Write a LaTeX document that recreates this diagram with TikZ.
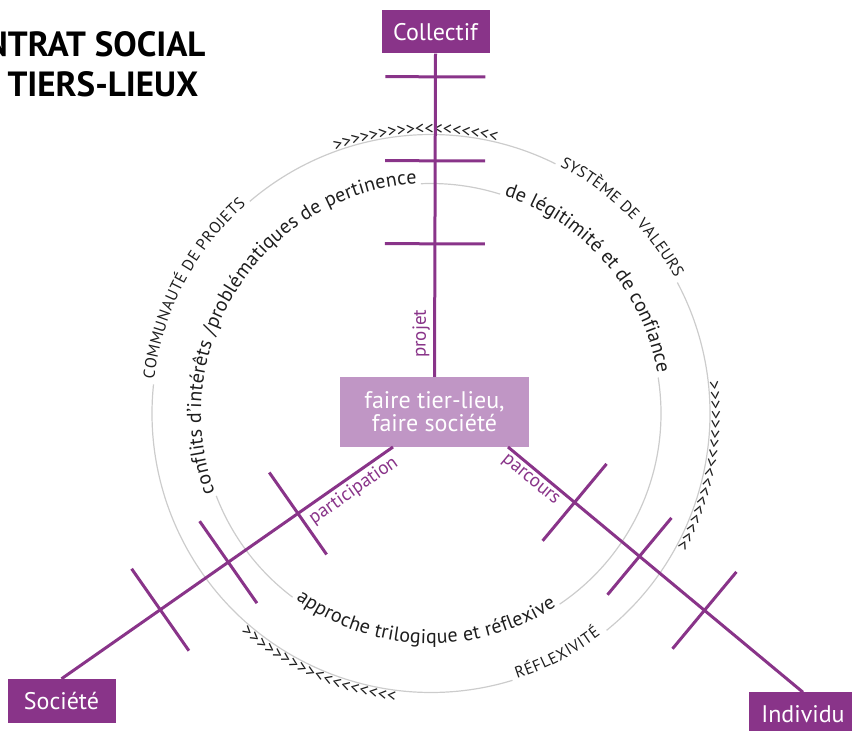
\documentclass[tikz,border=0pt]{standalone}
\usepackage{fontspec}
\setmainfont{PT Sans}
\usetikzlibrary{calc,decorations.text}

\definecolor{prune}{RGB}{137,52,137}
\definecolor{mauve}{RGB}{192,150,197}
\definecolor{anneau}{RGB}{204,204,204}
\definecolor{encre}{RGB}{30,30,30}

\tikzset{
  pole/.style={fill=prune, text=white, minimum width=108pt, minimum height=43pt, inner sep=0pt, font=\fontsize{24}{28}\selectfont},
  coeur/.style={fill=mauve, text=white, align=center, minimum width=189pt, minimum height=70pt, inner sep=0pt, font=\fontsize{24}{23}\selectfont},
  axe/.style={prune, line width=3pt},
  rond/.style={anneau, line width=1.2pt},
  etiq/.style={prune, font=\fontsize{19}{19}\selectfont},
  courbe/.style 2 args={decorate, decoration={text along path, text align={fit to path}, text={|\fontsize{#1}{#1}\selectfont\color{encre}|#2}}},
}

\begin{document}
\begin{tikzpicture}[x=1pt, y=1pt]
  \useasboundingbox (0,0) rectangle (852,731);
  \coordinate (C) at (431,317.5);

  % title, cut at the left edge
  \node[anchor=base east, font=\fontsize{35}{40}\selectfont\bfseries] (titre) at (209,674) {NTRAT SOCIAL};
  \node[anchor=base west, font=\fontsize{35}{40}\selectfont\bfseries] (soustitre) at (4,634) {TIERS-LIEUX};

  % the two rings, open where the words sit
  \foreach \r/\a/\b in {279/-51/28, 279/63.5/130.5, 279/174/287, 230/72.5/92.5, 230/-56/9, 230/201/233}
    \draw[rond] (C) ++(\a:\r) arc[start angle=\a, end angle=\b, radius=\r];

  \path[courbe={20}{conflits d’intérêts /problématiques de pertinence}] (C) ++(200:230) arc[start angle=200, end angle=93.5, radius=230];
  \path[courbe={20}{de légitimité et de confiance}] (C) ++(71.5:230) arc[start angle=71.5, end angle=10, radius=230];
  \path[courbe={20}{approche trilogique et réflexive}] (C) ++(234:230) arc[start angle=234, end angle=303, radius=230];
  \path[courbe={16}{COMMUNAUTÉ DE PROJETS}] (C) ++(173:279) arc[start angle=173, end angle=131.5, radius=279];
  \path[courbe={16}{SYSTÈME DE VALEURS}] (C) ++(62.5:279) arc[start angle=62.5, end angle=29, radius=279];
  \path[courbe={16}{RÉFLEXIVITÉ}] (C) ++(-72:279) arc[start angle=-72, end angle=-52.5, radius=279];
  % chevrons
  \foreach \a/\b in {110/77, 6.5/-28.5, 263/229}
    \path[courbe={18}{>>>>>>>>><<<<<<<<<}] (C) ++(\a:279) arc[start angle=\a, end angle=\b, radius=279];

  % poles
  \node[pole] (coll) at (435.5,699) {Collectif};
  \node[coeur] (ctr) at (434.5,319) {faire tier-lieu,\\faire société};
  \node[pole, minimum height=44pt] (soc) at (61.5,30) {Société};
  \node[pole] (indiv) at (803,17) {Individu};
  \coordinate (hubS) at (393,284);
  \coordinate (hubI) at (508,284);

  \draw[axe] (ctr.north) -- node[etiq, pos=.133, sloped, above] {projet} (coll.south);
  \draw[axe] (hubS) -- node[etiq, pos=.142, sloped, below] {participation} (soc.north);
  \draw[axe] (hubI) -- node[etiq, pos=.1, sloped, below] {parcours} (indiv.north);

  % ticks across the axes
  \foreach \a/\b/\d in {ctr.north/coll.south/133pt, ctr.north/coll.south/216pt, ctr.north/coll.south/300pt,
                        hubS/soc.north/116pt, hubS/soc.north/201pt, hubS/soc.north/284pt,
                        hubI/indiv.north/86.6pt, hubI/indiv.north/171pt, hubI/indiv.north/255.5pt}{
    \coordinate (cran) at ($(\a)!\d!(\b)$);
    \draw[axe] ($(cran)!50pt!90:(\b)$) -- ($(cran)!50pt!-90:(\b)$);
  }
\end{tikzpicture}
\end{document}
